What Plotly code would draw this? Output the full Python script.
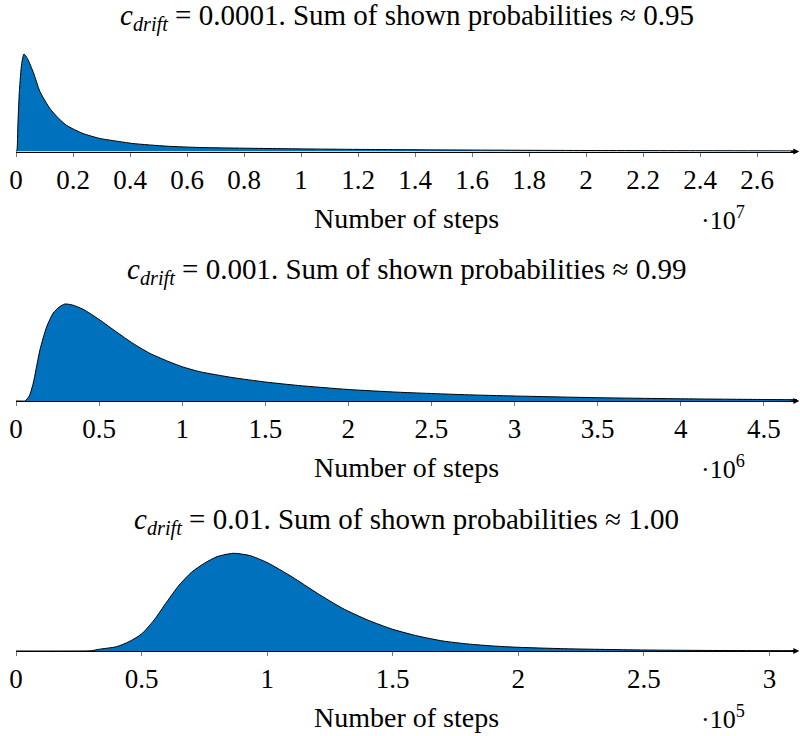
import plotly.graph_objects as go

# ---------------- data (relative probability) ----------------
# Panel 1: c_drift = 0.0001, steps in units of 1e7
steps1 = [0, 0.0025, 0.007, 0.012, 0.02, 0.028, 0.04, 0.061, 0.084, 0.119, 0.15, 0.178,
          0.235, 0.295, 0.35, 0.41, 0.53, 0.645, 0.8, 1.0, 1.2, 1.5, 1.8, 2.0, 2.4, 2.74]
prob1 = [0, 0, 30, 61, 88, 97.5, 93, 79, 60, 43, 33, 26,
         18, 13, 10.5, 8, 5.3, 4, 3.3, 2.6, 2.1, 1.6, 1.2, 1.0, 0.8, 0.6]

# Panel 2: c_drift = 0.001, steps in units of 1e6
steps2 = [0, 0.03, 0.054, 0.08, 0.104, 0.144, 0.184, 0.224, 0.26, 0.294, 0.34, 0.404,
          0.505, 0.605, 0.703, 0.805, 0.906, 1.0, 1.106, 1.3, 1.5, 1.7, 2.0, 2.3, 2.7,
          3.0, 3.5, 4.0, 4.5, 4.7]
prob2 = [0, 0, 0, 5, 18, 51, 74, 88, 94, 97, 96, 91.7,
         81, 69, 57.7, 47.7, 40.3, 34.3, 29.3, 23.5, 19, 15.5, 11.5, 8.8, 6.3,
         5, 3.3, 2.2, 1.5, 1.3]

# Panel 3: c_drift = 0.01, steps in units of 1e5
steps3 = [0, 0.2, 0.3, 0.33, 0.4, 0.45, 0.5, 0.55, 0.6, 0.65, 0.7, 0.75, 0.8, 0.865,
          0.93, 1.0, 1.1, 1.2, 1.3, 1.4, 1.5, 1.6, 1.7, 1.8, 1.9, 2.0, 2.2, 2.5, 2.8, 3.11]
prob3 = [0, 0, 0.3, 1.7, 4.3, 9.3, 17, 31, 49, 66, 79, 87.7, 94.3, 97.7,
         95.5, 88.5, 74, 57.7, 42.7, 31, 21.7, 15, 10, 7, 5, 3.7, 2.2, 1, 0.5, 0.3]

titles = [
    "<i>c</i><sub><i>drift</i></sub> = 0.0001. Sum of shown probabilities ≈ 0.95",
    "<i>c</i><sub><i>drift</i></sub> = 0.001. Sum of shown probabilities ≈ 0.99",
    "<i>c</i><sub><i>drift</i></sub> = 0.01. Sum of shown probabilities ≈ 1.00",
]
exponents = ["7", "6", "5"]
tickvals = [
    [0, 0.2, 0.4, 0.6, 0.8, 1, 1.2, 1.4, 1.6, 1.8, 2, 2.2, 2.4, 2.6],
    [0, 0.5, 1, 1.5, 2, 2.5, 3, 3.5, 4, 4.5],
    [0, 0.5, 1, 1.5, 2, 2.5, 3],
]
ticktext = [
    ["0", "0.2", "0.4", "0.6", "0.8", "1", "1.2", "1.4", "1.6", "1.8", "2", "2.2", "2.4", "2.6"],
    ["0", "0.5", "1", "1.5", "2", "2.5", "3", "3.5", "4", "4.5"],
    ["0", "0.5", "1", "1.5", "2", "2.5", "3"],
]
xmax = [2.74, 4.70, 3.11]
xlabel = "Number of steps"

# ---------------- layout geometry ----------------
W, H = 800, 736
baselines = [151.5, 401, 651]   # pixel row of the x axis
panel_h = 100                   # pixel height of the plot area
title_y = [1.345, 1.295, 1.30]
x_dom = [16 / W, 797 / W]
FONT = "Liberation Serif"
BLUE = "#0071bc"

fig = go.Figure()
steps_all = [steps1, steps2, steps3]
prob_all = [prob1, prob2, prob3]

layout = dict(
    width=W, height=H, margin=dict(l=0, r=0, t=0, b=0, pad=0, autoexpand=False),
    paper_bgcolor="white", plot_bgcolor="white", showlegend=False,
    font=dict(family=FONT, color="black"),
)
annotations = []
for i in range(3):
    n = i + 1
    xa = "x" if n == 1 else f"x{n}"
    ya = "y" if n == 1 else f"y{n}"
    fig.add_trace(go.Scatter(
        x=steps_all[i], y=prob_all[i], mode="lines",
        line=dict(color="black", width=1, shape="spline", smoothing=0.6),
        fill="tozeroy", fillcolor=BLUE, xaxis=xa, yaxis=ya, hoverinfo="skip",
    ))
    b = baselines[i]
    y0 = 1 - b / H
    y1 = 1 - (b - panel_h) / H
    axname = "xaxis" if n == 1 else f"xaxis{n}"
    yname = "yaxis" if n == 1 else f"yaxis{n}"
    layout[axname] = dict(
        domain=x_dom, range=[0, xmax[i]], anchor=ya, automargin=False,
        showgrid=False, zeroline=False, showline=True, linecolor="black", linewidth=1,
        ticks="outside", ticklen=4, tickcolor="#777", tickwidth=1,
        tickvals=tickvals[i], ticktext=ticktext[i],
        tickfont=dict(family=FONT, size=27, color="black"),
    )
    # duplicate axis for the upper half of the crossing ticks
    dup = f"xaxis{n + 3}"
    layout[dup] = dict(
        domain=x_dom, range=[0, xmax[i]], anchor=ya, overlaying=xa, matches=xa,
        automargin=False, showgrid=False, zeroline=False, showline=False,
        ticks="inside", ticklen=4, tickcolor="#777", tickwidth=1,
        tickvals=tickvals[i], showticklabels=False,
    )
    layout[yname] = dict(domain=[y0, y1], range=[0, 100], visible=False, anchor=xa,
                         automargin=False)
    # title
    annotations.append(dict(
        text=titles[i], xref=f"{xa} domain", yref=f"{ya} domain", x=0.5, y=title_y[i],
        xanchor="center", yanchor="middle", showarrow=False,
        font=dict(family=FONT, size=29, color="black"),
    ))
    # x axis label
    annotations.append(dict(
        text=xlabel, xref=f"{xa} domain", yref=f"{ya} domain", x=0.5, y=-0.665,
        xanchor="center", yanchor="middle", showarrow=False,
        font=dict(family=FONT, size=28, color="black"),
    ))
    # scale factor
    annotations.append(dict(
        text="·10<sup>" + exponents[i] + "</sup>", xref=f"{xa} domain", yref=f"{ya} domain",
        x=0.905, y=-0.665, xanchor="center", yanchor="middle", showarrow=False,
        font=dict(family=FONT, size=26, color="black"),
    ))
    # arrow head at the end of the axis
    annotations.append(dict(
        text="", xref=f"{xa} domain", yref=ya, x=1.003, y=0, ax=-10, ay=0,
        showarrow=True, arrowhead=2, arrowsize=1, arrowwidth=1.2, arrowcolor="black",
    ))

layout["annotations"] = annotations
fig.update_layout(**layout)
fig.write_html("out.html")
